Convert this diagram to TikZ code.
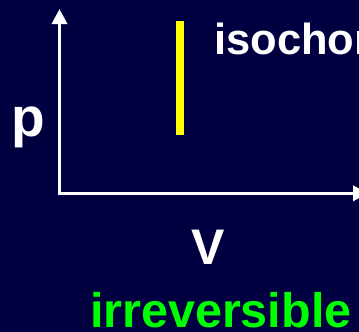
\documentclass[tikz,border=0pt]{standalone}
\usepackage{fontspec}
\setmainfont{Liberation Sans}
\usetikzlibrary{arrows.meta}
\definecolor{bgnavy}{RGB}{0,0,64}
\definecolor{curvegreen}{RGB}{0,255,0}
\definecolor{procyellow}{RGB}{255,255,0}
\tikzset{
  axisline/.style={white, line width=3.4pt, -{Triangle[length=15pt,width=15pt]}},
  lbl/.style={inner sep=0pt, outer sep=0pt, font=\bfseries},
}
\begin{document}
\begin{tikzpicture}[x=1pt,y=-1pt]
  \fill[bgnavy] (0,0) rectangle (359,332);
  \useasboundingbox (0,0) rectangle (359,332);
  \coordinate (O) at (59.5,193.3);
  \coordinate (ytip) at (59.5,9);
  \coordinate (xtip) at (368,193.3);
  \draw[axisline] ([yshift=1.7pt]O) -- (ytip);
  \draw[axisline] ([xshift=-1.7pt]O) -- (xtip);
  \fill[procyellow] (176,21) rectangle (184,135);
  \node[lbl, white, anchor=base west, font=\bfseries\fontsize{55}{60}\selectfont] (p) at (11.4,136.5) {p};
  \node[lbl, white, anchor=base, font=\bfseries\fontsize{50}{55}\selectfont] (V) at (208.5,264) {V};
  \node[lbl, white, anchor=base west, font=\bfseries\fontsize{43.5}{48}\selectfont] (iso) at (214.2,54) {isochor};
  \node[lbl, curvegreen, anchor=base west, font=\bfseries\fontsize{48.5}{52}\selectfont] (irr) at (90,327.5) {irreversible};
\end{tikzpicture}
\end{document}
